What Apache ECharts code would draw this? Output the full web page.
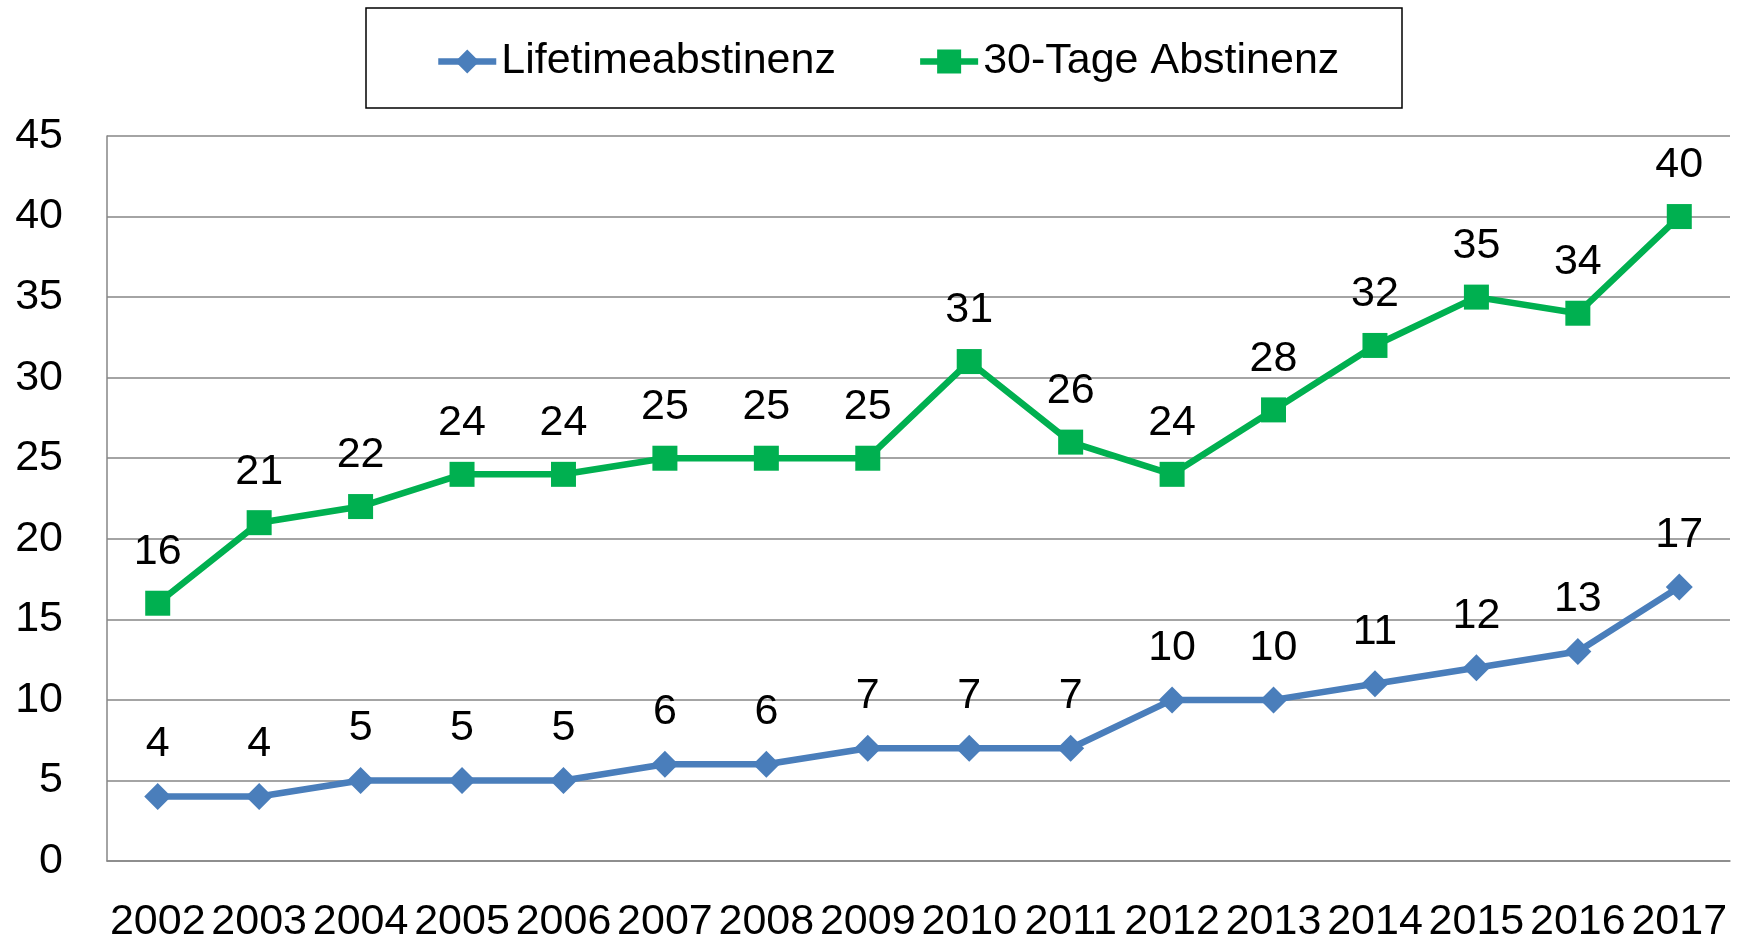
<!DOCTYPE html>
<html lang="de">
<head>
    <meta charset="UTF-8">
    <title>Abstinenz</title>
    <style>
        html, body { margin: 0; padding: 0; background: #fff; }
        #main { width: 1743px; height: 941px; }
    </style>
</head>
<body>
<div id="main"></div>
<script src="https://cdn.jsdelivr.net/npm/echarts@6/dist/echarts.min.js"></script>
<script>
    var years = ['2002', '2003', '2004', '2005', '2006', '2007', '2008', '2009',
                 '2010', '2011', '2012', '2013', '2014', '2015', '2016', '2017'];
    var lifetime = [4, 4, 5, 5, 5, 6, 6, 7, 7, 7, 10, 10, 11, 12, 13, 17];
    var tage30 = [16, 21, 22, 24, 24, 25, 25, 25, 31, 26, 24, 28, 32, 35, 34, 40];

    var font = '"Liberation Sans", Arial, sans-serif';
    var fs = 43;

    var chart = echarts.init(document.getElementById('main'));

    chart.setOption({
        backgroundColor: '#ffffff',
        animation: false,
        textStyle: { fontFamily: font, color: '#000' },
        // legend frame
        graphic: [{
            type: 'rect',
            shape: { x: 366, y: 8, width: 1036, height: 100 },
            style: { fill: 'none', stroke: '#000', lineWidth: 1.5 }
        }],
        legend: {
            top: 40,
            left: 435,
            padding: 0,
            itemWidth: 58,
            itemHeight: 30,
            itemGap: 81,
            lineStyle: { width: 6.5 },
            textStyle: { fontSize: fs, fontFamily: font, color: '#000' },
            data: ['Lifetimeabstinenz', '30-Tage Abstinenz']
        },
        grid: { left: 107, right: 13, top: 136, bottom: 80, outerBoundsMode: 'none' },
        xAxis: {
            type: 'category',
            data: years,
            boundaryGap: true,
            axisLine: { lineStyle: { color: '#868686', width: 1.5 } },
            axisTick: { show: false },
            axisLabel: { fontSize: fs, fontFamily: font, color: '#000', margin: 40, interval: 0 }
        },
        yAxis: {
            type: 'value',
            min: 0,
            max: 45,
            interval: 5,
            axisLine: { show: true, lineStyle: { color: '#868686', width: 1.5 } },
            axisTick: { show: false },
            splitLine: { lineStyle: { color: '#868686', width: 1.5 } },
            axisLabel: { fontSize: fs, fontFamily: font, color: '#000', margin: 44 }
        },
        series: [{
            name: 'Lifetimeabstinenz',
            type: 'line',
            data: lifetime,
            symbol: 'diamond',
            symbolSize: 27,
            color: '#4a7ebb',
            lineStyle: { width: 6.5, color: '#4a7ebb' },
            itemStyle: { color: '#4a7ebb' },
            label: { show: true, position: 'top', distance: 17, fontSize: fs, fontFamily: font, color: '#000' }
        }, {
            name: '30-Tage Abstinenz',
            type: 'line',
            data: tage30,
            symbol: 'rect',
            symbolSize: 25,
            color: '#00b050',
            lineStyle: { width: 6.5, color: '#00b050' },
            itemStyle: { color: '#00b050' },
            label: { show: true, position: 'top', distance: 17, fontSize: fs, fontFamily: font, color: '#000' }
        }]
    });
</script>
</body>
</html>
